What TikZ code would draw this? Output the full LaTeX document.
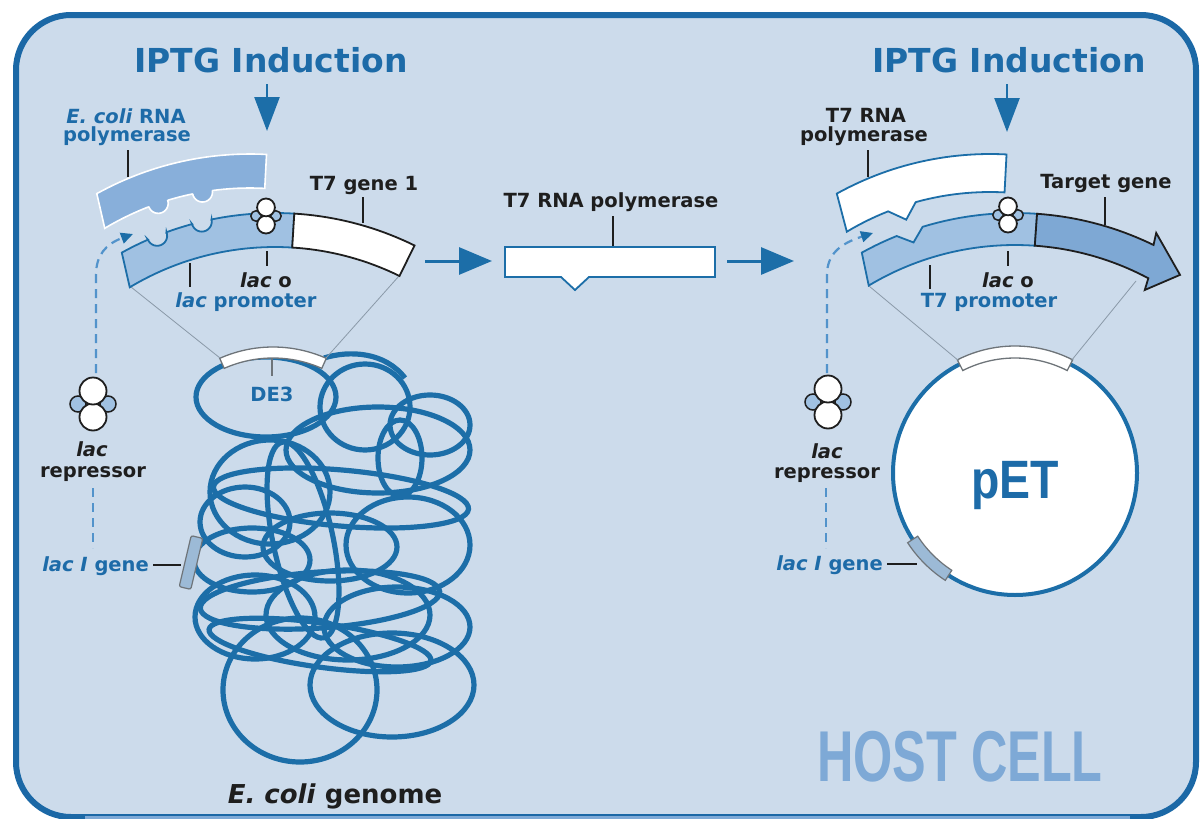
\documentclass[tikz,border=0pt]{standalone}
\usepackage{fontspec}
\setmainfont{DejaVu Sans}
\newfontfamily\narrowfont{Liberation Sans}
\usetikzlibrary{arrows.meta}

\definecolor{cellbg}{HTML}{CCDBEB}
\definecolor{frameblue}{HTML}{1B68A6}
\definecolor{dnablue}{HTML}{1C6EA8}
\definecolor{textblue}{HTML}{1D6BA8}
\definecolor{promfill}{HTML}{A0C1E2}
\definecolor{polyfill}{HTML}{88AFDA}
\definecolor{genefill}{HTML}{7EA8D4}
\definecolor{hostblue}{HTML}{7EA9D6}
\definecolor{dashblue}{HTML}{5293CB}
\definecolor{inkgray}{HTML}{1E1E1E}
\definecolor{thingray}{HTML}{8A99A8}
\definecolor{lacifill}{HTML}{9CBAD6}
\definecolor{segedge}{HTML}{6E7479}

\newcommand{\lblsize}{\fontsize{19.5}{21}\selectfont}

\tikzset{
  represpic/.pic={
    \draw[fill=promfill, draw=inkgray, line width=1.5pt] (-15,0) circle[radius=8];
    \draw[fill=promfill, draw=inkgray, line width=1.5pt] (15,0) circle[radius=8];
    \draw[fill=white, draw=inkgray, line width=1.8pt] (0,13) circle[radius=13.5];
    \draw[fill=white, draw=inkgray, line width=1.8pt] (0,-13) circle[radius=13.5];
  }
}

\begin{document}
\begin{tikzpicture}[x=1pt, y=-1pt,
  lbl/.style={font=\bfseries\lblsize, text=inkgray, inner sep=0pt, anchor=base},
  bluelbl/.style={lbl, text=textblue},
  headline/.style={font=\bfseries\fontsize{33}{36}\selectfont, text=textblue, inner sep=0pt, anchor=base},
  leader/.style={draw=inkgray, line width=1.4pt},
  zoomline/.style={draw=thingray, line width=0.8pt},
  genome/.style={draw=dnablue, line width=5.2pt},
  bigarrow/.style={draw=dnablue, line width=3pt, -{Triangle[length=33pt, width=27pt]}},
  inducer/.style={draw=dnablue, line width=2.5pt, -{Triangle[length=34pt, width=25pt]}},
  dashlink/.style={draw=dashblue, line width=2.2pt, dash pattern=on 9pt off 6pt},
  dashtip/.style={dashlink, -{Triangle[length=12pt, width=11pt, color=dnablue]}}
]
\useasboundingbox (0,0) rectangle (1203,819);
\fill[white] (0,0) rectangle (1203,819);

% cell outline
\draw[draw=frameblue, fill=cellbg, line width=6pt, rounded corners=55pt] (16,15) rectangle (1196,817);
\draw[hostblue, line width=3pt] (85,817.5) -- (1130,817.5);

% ---------------- E. coli genome (tangled chromosome) ----------------
\draw[genome] (266,397) ellipse[x radius=70, y radius=40];
\draw[genome] (365,407) ellipse[x radius=45, y radius=43];
\draw[genome] (378,450) ellipse[x radius=92, y radius=43];
\draw[genome] (400,458) ellipse[x radius=22, y radius=38];
\draw[genome] (430,425) ellipse[x radius=40, y radius=30];
\draw[genome] (270,492) ellipse[x radius=60, y radius=52];
\draw[genome, rotate around={-5:(341,498)}] (341,498) ellipse[x radius=128, y radius=28];
\draw[genome] (330,547) ellipse[x radius=67, y radius=34];
\draw[genome] (408,545) ellipse[x radius=62, y radius=48];
\draw[genome] (252,560) ellipse[x radius=58, y radius=32];
\draw[genome] (245,522) ellipse[x radius=45, y radius=35];
\draw[genome, rotate around={12:(303,540)}] (303,540) ellipse[x radius=30, y radius=100];
\draw[genome, rotate around={4:(320,600)}] (320,600) ellipse[x radius=120, y radius=28];
\draw[genome, rotate around={-8:(320,645)}] (320,645) ellipse[x radius=112, y radius=22];
\draw[genome] (255,617) ellipse[x radius=60, y radius=42];
\draw[genome] (348,615) ellipse[x radius=82, y radius=45];
\draw[genome] (397,627) ellipse[x radius=73, y radius=40];
\draw[genome] (300,690) ellipse[x radius=77, y radius=72];
\draw[genome] (392,685) ellipse[x radius=82, y radius=52];
\draw[genome] (324,358) .. controls (350,350) and (385,352) .. (405,378);

% lac I gene on the chromosome
\draw[fill=lacifill, draw=segedge, line width=1.2pt, rounded corners=2pt]
  (191.2,535.6) -- (202.8,538.4) -- (190.8,589.4) -- (179.2,586.6) -- cycle;

% DE3 insertion
\begin{scope}[shift={(273,478)}]
  \draw[fill=white, draw=segedge, line width=1.3pt]
    plot[domain=-114:-66, samples=30] (\x:131) -- plot[domain=-66:-114, samples=30] (\x:120) -- cycle;
\end{scope}

% zoom lines from the DE3 insert to the expanded region
\coordinate (zl1) at (131,287);
\coordinate (zl2) at (220,358);
\coordinate (zl3) at (399,276);
\coordinate (zl4) at (326,358);
\draw[zoomline] (zl1) -- (zl2);
\draw[zoomline] (zl3) -- (zl4);

% ---------------- left: expanded DE3 region ----------------
% E. coli RNA polymerase
\begin{scope}[shift={(250,470)}]
  \draw[fill=polyfill, draw=white, line width=1.6pt]
    plot[domain=-119:-87, samples=30] (\x:316) -- (-87:282)
    -- plot[domain=-87:-97.67, samples=10] (\x:282)
    -- plot[domain=0:180, samples=15] ({282*cos(-99.7)-10*sin(-99.7+\x)}, {282*sin(-99.7)+10*cos(-99.7+\x)})
    -- plot[domain=-101.73:-106.97, samples=6] (\x:282)
    -- plot[domain=0:180, samples=15] ({282*cos(-109)-10*sin(-109+\x)}, {282*sin(-109)+10*cos(-109+\x)})
    -- plot[domain=-111.03:-121, samples=10] (\x:282) -- cycle;
\end{scope}

\begin{scope}[shift={(275,529)}]
  % lac promoter with polymerase docking notches
  \draw[fill=promfill, draw=dnablue, line width=1.8pt]
    plot[domain=-119:-113.7, samples=6] (\x:316)
    -- plot[domain=0:180, samples=15] ({316*cos(-111.9)+10*sin(-111.9-\x)}, {316*sin(-111.9)-10*cos(-111.9-\x)})
    -- plot[domain=-110.1:-105.2, samples=6] (\x:316)
    -- plot[domain=0:180, samples=15] ({316*cos(-103.4)+10*sin(-103.4-\x)}, {316*sin(-103.4)-10*cos(-103.4-\x)})
    -- plot[domain=-101.6:-86.5, samples=16] (\x:316)
    -- (-86.5:282)
    -- plot[domain=-86.5:-121, samples=30] (\x:282) -- cycle;
  % T7 gene 1
  \draw[fill=white, draw=inkgray, line width=1.8pt]
    plot[domain=-86.5:-63.8, samples=20] (\x:316) -- plot[domain=-63.8:-86.5, samples=20] (\x:282) -- cycle;
\end{scope}
\pic[scale=0.66] at (266,216) {represpic};

% left labels
\node[headline] (iptgL) at (271,72) {IPTG Induction};
\coordinate (indL1) at (267,84);
\coordinate (indL2) at (267,131);
\draw[inducer] (indL1) -- (indL2);

\node[bluelbl] (ecpolA) at (126,123) {\textit{E. coli} RNA};
\node[bluelbl] (ecpolB) at (127,141) {polymerase};
\coordinate (ldA1) at (128,150); \coordinate (ldA2) at (128,177);
\draw[leader] (ldA1) -- (ldA2);

\node[lbl] (t7g1) at (364,190) {T7 gene 1};
\coordinate (ldB1) at (363,197); \coordinate (ldB2) at (363,223);
\draw[leader] (ldB1) -- (ldB2);

\node[lbl] (laco1) at (266,287) {\textit{lac} o};
\coordinate (ldC1) at (267,251); \coordinate (ldC2) at (267,266);
\draw[leader] (ldC1) -- (ldC2);

\node[bluelbl] (lacp) at (246,307) {\textit{lac} promoter};
\coordinate (ldD1) at (190,263); \coordinate (ldD2) at (190,287);
\draw[leader] (ldD1) -- (ldD2);

\node[bluelbl] (de3) at (272,401) {DE3};
\coordinate (ldE1) at (272,358); \coordinate (ldE2) at (272,376);
\draw[leader, line width=1.2pt, draw=segedge] (ldE1) -- (ldE2);

% lac repressor (left)
\pic at (93,404) {represpic};
\node[lbl] (lacrL1) at (92,456) {\textit{lac}};
\node[lbl] (lacrL2) at (93,477) {repressor};
\coordinate (dsL1) at (96,373);
\coordinate (dsL2) at (96,275);
\coordinate (dsL3) at (133,234);
\draw[dashtip] (dsL1) -- (dsL2) .. controls (96,255) and (106,244) .. (dsL3);
\coordinate (dsL4) at (93,488);
\coordinate (dsL5) at (93,548);
\draw[dashlink] (dsL4) -- (dsL5);

\node[bluelbl, anchor=base east] (laciL) at (149,571) {\textit{lac I} gene};
\coordinate (ldF1) at (153,565); \coordinate (ldF2) at (181,565);
\draw[leader] (ldF1) -- (ldF2);

\node[font=\bfseries\fontsize{26}{28}\selectfont, text=inkgray, inner sep=0pt, anchor=base] (genomelbl) at (335,803) {\textit{E. coli} genome};

% ---------------- middle: T7 RNA polymerase ----------------
\coordinate (ar1a) at (425,261); \coordinate (ar1b) at (492,261);
\draw[bigarrow] (ar1a) -- (ar1b);
\coordinate (ar2a) at (727,261); \coordinate (ar2b) at (794,261);
\draw[bigarrow] (ar2a) -- (ar2b);

\draw[fill=white, draw=dnablue, line width=1.8pt]
  (505,247) -- (715,247) -- (715,277) -- (589,277) -- (575,290) -- (561,277) -- (505,277) -- cycle;
\node[lbl] (t7polM) at (611,207) {T7 RNA polymerase};
\coordinate (ldG1) at (613,216); \coordinate (ldG2) at (613,246);
\draw[leader] (ldG1) -- (ldG2);

% ---------------- right: pET vector ----------------
\draw[fill=white, draw=dnablue, line width=4pt] (1015,473) circle[radius=122];
\begin{scope}[shift={(1015,473)}]
  \draw[fill=white, draw=segedge, line width=1.3pt]
    plot[domain=-117:-63, samples=30] (\x:127) -- plot[domain=-63:-117, samples=30] (\x:115) -- cycle;
  \draw[fill=lacifill, draw=segedge, line width=1.2pt]
    plot[domain=123:147, samples=15] (\x:128) -- plot[domain=147:123, samples=15] (\x:116) -- cycle;
\end{scope}
\node[font=\narrowfont\bfseries\fontsize{54}{58}\selectfont, text=textblue, inner sep=0pt, anchor=base] (pet) at (1015,498) {\scalebox{0.86}[1]{pET}};

\coordinate (zr1) at (869,286);
\coordinate (zr2) at (959,361);
\coordinate (zr3) at (1136,281);
\coordinate (zr4) at (1071,361);
\draw[zoomline] (zr1) -- (zr2);
\draw[zoomline] (zr3) -- (zr4);

% T7 RNA polymerase bound to the T7 promoter
\begin{scope}[shift={(990,470)}]
  \draw[fill=white, draw=dnablue, line width=1.8pt]
    plot[domain=-119:-87, samples=30] (\x:316) -- (-87:278)
    -- plot[domain=-87:-105.5, samples=15] (\x:278)
    -- (-108.5:264)
    -- plot[domain=-111.5:-121, samples=8] (\x:278) -- cycle;
\end{scope}
\begin{scope}[shift={(1015,529)}]
  \draw[fill=promfill, draw=dnablue, line width=1.8pt]
    plot[domain=-119:-112, samples=6] (\x:316) -- (-109.5:304)
    -- plot[domain=-107:-86, samples=16] (\x:316)
    -- (-86:284)
    -- plot[domain=-86:-121, samples=30] (\x:284) -- cycle;
  \draw[fill=genefill, draw=inkgray, line width=1.8pt]
    plot[domain=-86:-64, samples=20] (\x:316) -- (-64.5:328) -- (-57:303) -- (-61.5:272) -- (-62:284)
    -- plot[domain=-62:-86, samples=20] (\x:284) -- cycle;
\end{scope}
\pic[scale=0.66] at (1008,215) {represpic};

% right labels
\node[headline] (iptgR) at (1009,72) {IPTG Induction};
\coordinate (indR1) at (1007,84);
\coordinate (indR2) at (1007,132);
\draw[inducer] (indR1) -- (indR2);

\node[lbl] (t7polA) at (866,122) {T7 RNA};
\node[lbl] (t7polB) at (864,141) {polymerase};
\coordinate (ldH1) at (868,150); \coordinate (ldH2) at (868,177);
\draw[leader] (ldH1) -- (ldH2);

\node[lbl] (tgene) at (1106,188) {Target gene};
\coordinate (ldI1) at (1105,197); \coordinate (ldI2) at (1105,225);
\draw[leader] (ldI1) -- (ldI2);

\node[lbl] (laco2) at (1008,287) {\textit{lac} o};
\coordinate (ldJ1) at (1008,251); \coordinate (ldJ2) at (1008,266);
\draw[leader] (ldJ1) -- (ldJ2);

\node[bluelbl] (t7p) at (989,307) {T7 promoter};
\coordinate (ldK1) at (930,265); \coordinate (ldK2) at (930,289);
\draw[leader] (ldK1) -- (ldK2);

% lac repressor (right)
\pic at (828,402) {represpic};
\node[lbl] (lacrR1) at (827,458) {\textit{lac}};
\node[lbl] (lacrR2) at (827,478) {repressor};
\coordinate (dsR1) at (827,373);
\coordinate (dsR2) at (827,275);
\coordinate (dsR3) at (873,233);
\draw[dashtip] (dsR1) -- (dsR2) .. controls (827,255) and (839,244) .. (dsR3);
\coordinate (dsR4) at (826,488);
\coordinate (dsR5) at (826,548);
\draw[dashlink] (dsR4) -- (dsR5);

\node[bluelbl, anchor=base east] (laciR) at (883,570) {\textit{lac I} gene};
\coordinate (ldL1) at (887,564); \coordinate (ldL2) at (917,564);
\draw[leader] (ldL1) -- (ldL2);

% cell label
\node[font=\narrowfont\bfseries\fontsize{72}{76}\selectfont, text=hostblue, inner sep=0pt, anchor=base] (host) at (960,781) {\scalebox{0.7}[1]{HOST CELL}};

\end{tikzpicture}
\end{document}
